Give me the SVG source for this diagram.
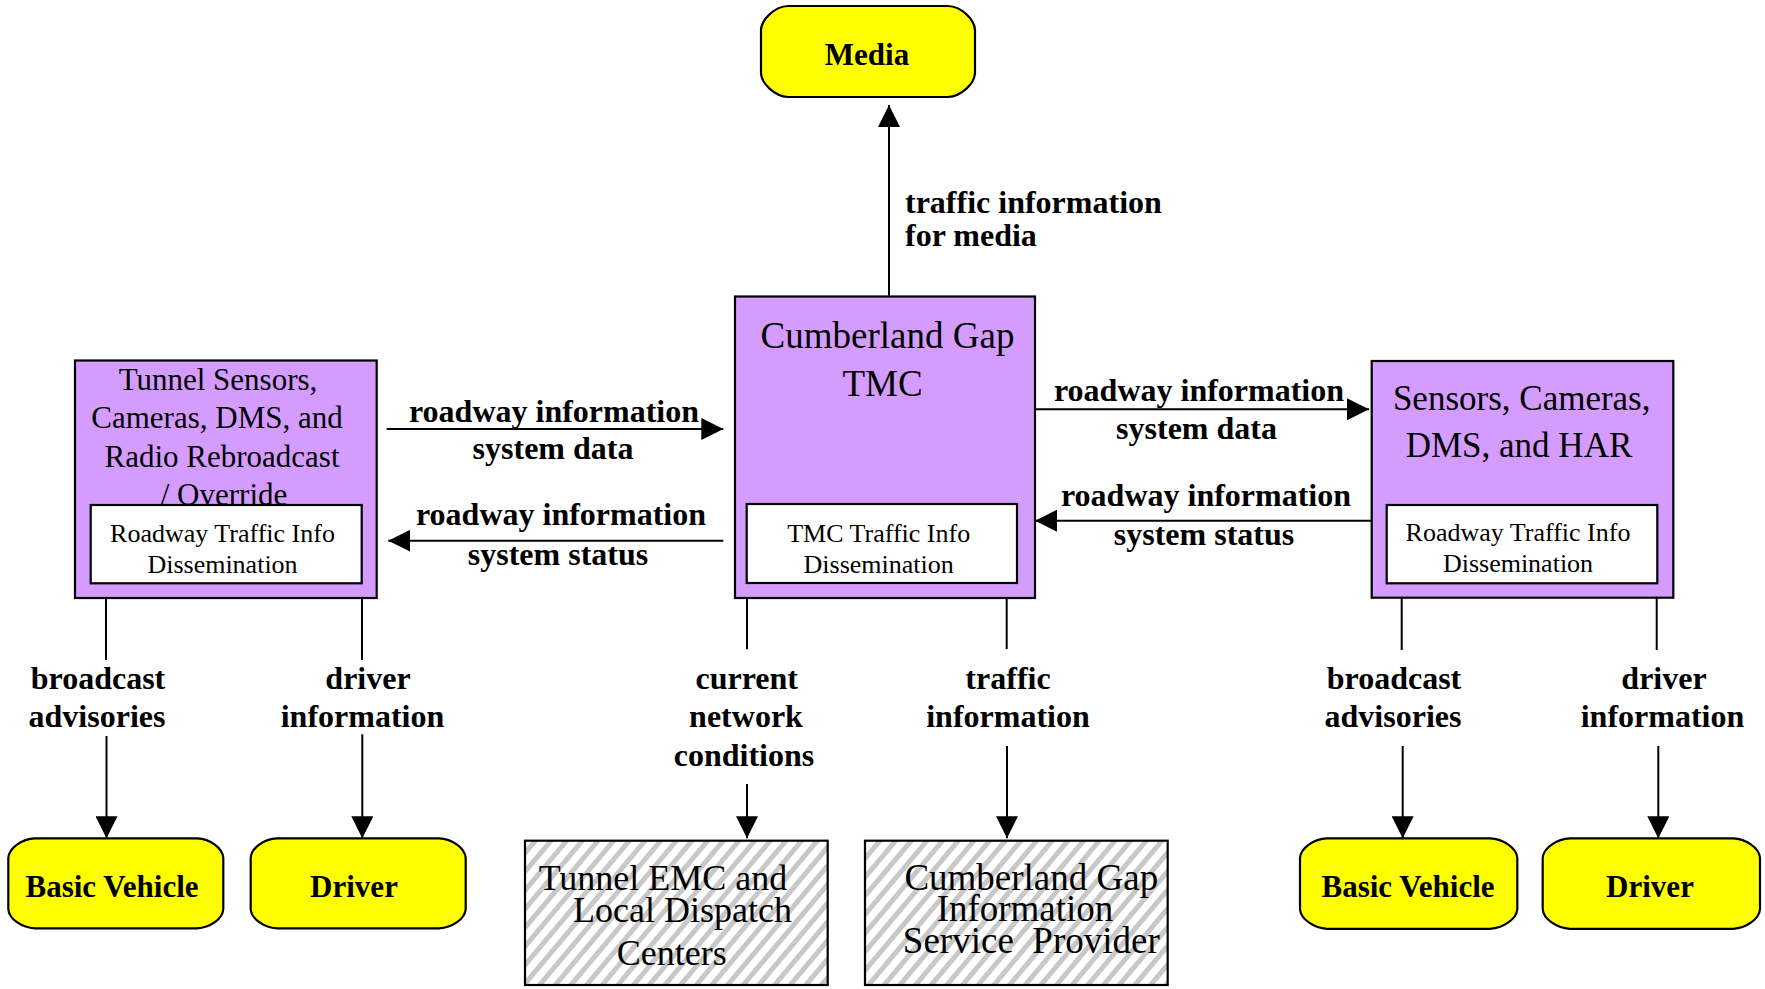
<svg xmlns="http://www.w3.org/2000/svg" width="1765" height="989" viewBox="0 0 1765 989">
<style>
  text { font-family: "Liberation Serif", "Times New Roman", serif; fill: #000; }
  .lbl { font-weight: bold; font-size: 32px; }
  .mid { text-anchor: middle; }
  .term { fill: #FFFF00; stroke: #000; stroke-width: 2.2; stroke-linejoin: round; }
  .termtxt { font-weight: bold; font-size: 31px; text-anchor: middle; }
  .sys { fill: #D49CFF; stroke: #000; stroke-width: 2.2; }
  .inner { fill: #FFFFFF; stroke: #000; stroke-width: 2.2; }
  .innertxt { font-size: 26px; text-anchor: middle; }
  .hatch { fill: url(#hatch); stroke: #000; stroke-width: 2.2; }
  .conn { fill: none; stroke: #000; stroke-width: 2; }
  .arr { marker-end: url(#ah); }
</style>
<defs>
  <marker id="ah" markerUnits="userSpaceOnUse" markerWidth="22" markerHeight="22" refX="22" refY="11" orient="auto">
    <path d="M0,0 L22,11 L0,22 z" fill="#000"/>
  </marker>
  <pattern id="hatch" patternUnits="userSpaceOnUse" width="12" height="12" patternTransform="rotate(40)">
    <rect width="12" height="12" fill="#FFFFFF"/>
    <rect width="5" height="12" fill="#C8C8C8"/>
  </pattern>
</defs>
<rect width="1765" height="989" fill="#FFFFFF"/>

<g id="connectors">
  <path class="conn arr" d="M889,296 V105"/>
  <path class="conn arr" d="M386.7,429 H723.3"/>
  <path class="conn arr" d="M723.3,540.7 H388.3"/>
  <path class="conn arr" d="M1035,409.3 H1369"/>
  <path class="conn arr" d="M1371.7,520.7 H1035"/>
  <path class="conn" d="M106,598 V660"/>
  <path class="conn arr" d="M106.5,736 V838.3"/>
  <path class="conn" d="M362,598 V660"/>
  <path class="conn arr" d="M362.3,734.3 V838.3"/>
  <path class="conn" d="M747,598 V649.3"/>
  <path class="conn arr" d="M747,784 V838.3"/>
  <path class="conn" d="M1006.7,598 V649"/>
  <path class="conn arr" d="M1007,746 V838.3"/>
  <path class="conn" d="M1401.7,598 V650"/>
  <path class="conn arr" d="M1402.7,746 V838.3"/>
  <path class="conn" d="M1656.7,598 V650"/>
  <path class="conn arr" d="M1658.3,746 V838.3"/>

  <text class="lbl" x="905" y="213">traffic information</text>
  <text class="lbl" x="905" y="246">for media</text>

  <text class="lbl mid" x="554" y="421.7">roadway information</text>
  <text class="lbl mid" x="553" y="459.3">system data</text>
  <text class="lbl mid" x="561" y="525">roadway information</text>
  <text class="lbl mid" x="558" y="565">system status</text>

  <text class="lbl mid" x="1199" y="400.7">roadway information</text>
  <text class="lbl mid" x="1196.5" y="439.3">system data</text>
  <text class="lbl mid" x="1206" y="506">roadway information</text>
  <text class="lbl mid" x="1204" y="545">system status</text>

  <text class="lbl mid" x="98" y="689.3">broadcast</text>
  <text class="lbl mid" x="97" y="726.7">advisories</text>
  <text class="lbl mid" x="368" y="689.3">driver</text>
  <text class="lbl mid" x="362.5" y="726.7">information</text>

  <text class="lbl mid" x="746.7" y="689.3">current</text>
  <text class="lbl mid" x="746" y="726.7">network</text>
  <text class="lbl mid" x="744" y="766">conditions</text>
  <text class="lbl mid" x="1008" y="689.3">traffic</text>
  <text class="lbl mid" x="1008" y="726.7">information</text>

  <text class="lbl mid" x="1394" y="689.3">broadcast</text>
  <text class="lbl mid" x="1393" y="726.7">advisories</text>
  <text class="lbl mid" x="1664" y="689.3">driver</text>
  <text class="lbl mid" x="1662.5" y="726.7">information</text>
</g>

<g id="media">
  <path class="term" d="M788,6 H948 C961,6.5 974.5,19 975,30 V73 C974.5,84 961,96.5 948,97 H788 C775,96.5 761.5,84 761,73 V30 C761.5,19 775,6.5 788,6 Z"/>
  <text class="termtxt" x="867" y="65">Media</text>
</g>

<g id="tmc">
  <rect class="sys" x="735" y="296.5" width="300" height="301.5"/>
  <text x="887.5" y="348" font-size="37" text-anchor="middle">Cumberland Gap</text>
  <text x="882.5" y="396" font-size="37" text-anchor="middle">TMC</text>
  <rect class="inner" x="746.7" y="504" width="270.3" height="79"/>
  <text class="innertxt" x="878.7" y="541.7">TMC Traffic Info</text>
  <text class="innertxt" x="878.7" y="573">Dissemination</text>
</g>

<g id="tunnel-sensors">
  <rect class="sys" x="75" y="360.5" width="301.7" height="237.5"/>
  <text x="218" y="390" font-size="31" text-anchor="middle">Tunnel Sensors,</text>
  <text x="217" y="427.7" font-size="31" text-anchor="middle">Cameras, DMS, and</text>
  <text x="222" y="466.7" font-size="31" text-anchor="middle">Radio Rebroadcast</text>
  <text x="224" y="505" font-size="31" text-anchor="middle">/ Override</text>
  <rect class="inner" x="90.7" y="505" width="271" height="78.3"/>
  <text class="innertxt" x="222.5" y="542.3">Roadway Traffic Info</text>
  <text class="innertxt" x="222.5" y="573.3">Dissemination</text>
</g>

<g id="sensors-har">
  <rect class="sys" x="1371.7" y="361" width="301.6" height="236.7"/>
  <text x="1521.7" y="410" font-size="35" text-anchor="middle">Sensors, Cameras,</text>
  <text x="1519" y="456.7" font-size="35" text-anchor="middle">DMS, and HAR</text>
  <rect class="inner" x="1386.7" y="505" width="270.6" height="78.3"/>
  <text class="innertxt" x="1518" y="540.7">Roadway Traffic Info</text>
  <text class="innertxt" x="1518" y="571.7">Dissemination</text>
</g>

<g id="basic-vehicle-left">
  <path class="term" d="M35,838.3 H197 C210,838.8 222.8,848 223.3,858 V909 C222.8,919 210,927.8 197,928.3 H35 C22,927.8 8.8,919 8.3,909 V858 C8.8,848 22,838.8 35,838.3 Z"/>
  <text class="termtxt" x="112" y="896.7">Basic Vehicle</text>
</g>

<g id="driver-left">
  <path class="term" d="M277,838.3 H439 C452,838.8 465.2,848 465.7,858 V909 C465.2,919 452,927.8 439,928.3 H277 C264,927.8 251.2,919 250.7,909 V858 C251.2,848 264,838.8 277,838.3 Z"/>
  <text class="termtxt" x="354" y="896.7">Driver</text>
</g>

<g id="tunnel-emc">
  <rect class="hatch" x="525" y="840.7" width="302.7" height="144.3"/>
  <text x="663" y="890" font-size="36" text-anchor="middle">Tunnel EMC and</text>
  <text x="682.5" y="921.7" font-size="36" text-anchor="middle">Local Dispatch</text>
  <text x="671.7" y="965" font-size="36" text-anchor="middle">Centers</text>
</g>

<g id="cg-isp">
  <rect class="hatch" x="865" y="840.7" width="302.7" height="144.3"/>
  <text x="1031.3" y="890" font-size="37" text-anchor="middle">Cumberland Gap</text>
  <text x="1025" y="920.7" font-size="37" text-anchor="middle">Information</text>
  <text x="1031.3" y="953.3" font-size="37" text-anchor="middle" xml:space="preserve">Service  Provider</text>
</g>

<g id="basic-vehicle-right">
  <path class="term" d="M1327,838.3 H1490 C1503,838.8 1516.8,848 1517.3,858 V909 C1516.8,919 1503,928.3 1490,928.8 H1327 C1314,928.3 1300.5,919 1300,909 V858 C1300.5,848 1314,838.8 1327,838.3 Z"/>
  <text class="termtxt" x="1408" y="896.7">Basic Vehicle</text>
</g>

<g id="driver-right">
  <path class="term" d="M1570,838.3 H1733 C1746,838.8 1759.5,848 1760,858 V909 C1759.5,919 1746,928.3 1733,928.8 H1570 C1557,928.3 1543.2,919 1542.7,909 V858 C1543.2,848 1557,838.8 1570,838.3 Z"/>
  <text class="termtxt" x="1650" y="896.7">Driver</text>
</g>
</svg>
